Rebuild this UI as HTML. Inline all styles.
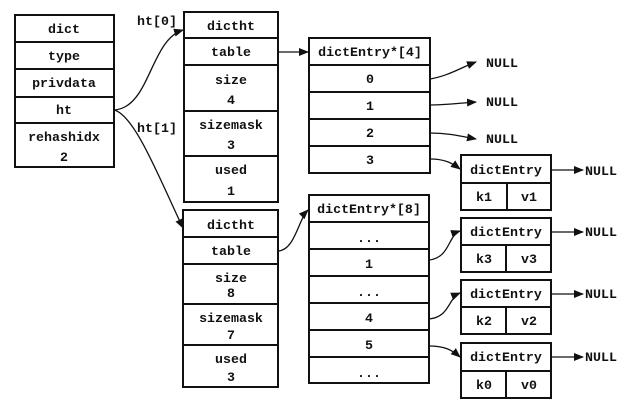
<!DOCTYPE html>
<html><head><meta charset="utf-8"><style>
html,body{margin:0;padding:0;background:#fff;}
svg{display:block;}
text{font-family:"Liberation Mono",monospace;font-size:13.3px;font-weight:bold;fill:#111;text-anchor:middle;}
.b{fill:none;stroke:#111;stroke-width:2;}
.l{fill:none;stroke:#111;stroke-width:1.3;}
</style></head><body>
<svg width="634" height="409" viewBox="0 0 634 409" xmlns="http://www.w3.org/2000/svg">
<defs><marker id="a" markerWidth="10" markerHeight="8" refX="9" refY="4" orient="auto" markerUnits="userSpaceOnUse"><path d="M0,0 L10,4 L0,8 Z" fill="#111"/></marker></defs>

<rect class="b" x="15" y="15" width="99" height="152"/>
<path class="b" d="M15 42H114M15 69H114M15 97H114M15 123H114"/>
<text x="64" y="33">dict</text>
<text x="64" y="60">type</text>
<text x="64" y="87">privdata</text>
<text x="64" y="114">ht</text>
<text x="64" y="141">rehashidx</text>
<text x="64" y="161">2</text>

<text x="157" y="25">ht[0]</text>
<text x="157" y="132">ht[1]</text>
<path class="l" d="M114 110 C150 108,150 40,183 30" marker-end="url(#a)"/>
<path class="l" d="M114 110 C135 115,160 180,183 228" marker-end="url(#a)"/>

<rect class="b" x="184" y="12" width="94" height="190"/>
<path class="b" d="M184 38H278M184 65H278M184 111H278M184 156H278"/>
<text x="231" y="30">dictht</text>
<text x="231" y="56">table</text>
<text x="231" y="84">size</text>
<text x="231" y="104">4</text>
<text x="231" y="129">sizemask</text>
<text x="231" y="149">3</text>
<text x="231" y="174">used</text>
<text x="231" y="195">1</text>
<path class="l" d="M278 52H308" marker-end="url(#a)"/>

<rect class="b" x="309" y="38" width="121" height="135"/>
<path class="b" d="M309 65H430M309 92H430M309 119H430M309 146H430"/>
<text x="370" y="56">dictEntry*[4]</text>
<text x="370" y="83">0</text>
<text x="370" y="110">1</text>
<text x="370" y="137">2</text>
<text x="370" y="164">3</text>
<path class="l" d="M430 79 C448 76,460 68,476 62" marker-end="url(#a)"/>
<path class="l" d="M430 105 C448 105,460 103,476 102" marker-end="url(#a)"/>
<path class="l" d="M430 133 C448 133,460 136,476 139" marker-end="url(#a)"/>
<text x="502" y="67">NULL</text>
<text x="502" y="106">NULL</text>
<text x="502" y="143">NULL</text>
<path class="l" d="M430 159 C445 159,452 163,460 169" marker-end="url(#a)"/>

<rect class="b" x="183" y="210" width="95" height="177"/>
<path class="b" d="M183 237H278M183 264H278M183 304H278M183 345H278"/>
<text x="231" y="229">dictht</text>
<text x="231" y="255">table</text>
<text x="231" y="282">size</text>
<text x="231" y="297">8</text>
<text x="231" y="322">sizemask</text>
<text x="231" y="339">7</text>
<text x="231" y="363">used</text>
<text x="231" y="381">3</text>
<path class="l" d="M278 251 C295 250,298 220,308 210" marker-end="url(#a)"/>

<rect class="b" x="309" y="195" width="120" height="188"/>
<path class="b" d="M309 222H429M309 249H429M309 276H429M309 303H429M309 330H429M309 357H429"/>
<text x="369" y="213">dictEntry*[8]</text>
<text x="369" y="242">...</text>
<text x="369" y="268">1</text>
<text x="369" y="296">...</text>
<text x="369" y="322">4</text>
<text x="369" y="349">5</text>
<text x="369" y="377">...</text>
<path class="l" d="M429 260 C450 258,448 235,460 231" marker-end="url(#a)"/>
<path class="l" d="M429 319 C450 317,448 298,460 293" marker-end="url(#a)"/>
<path class="l" d="M429 346 C445 346,452 350,460 357" marker-end="url(#a)"/>

<g>
<rect class="b" x="461" y="155" width="90" height="55"/><path class="b" d="M461 183H551M507 183V210"/>
<text x="506" y="174">dictEntry</text><text x="484" y="201">k1</text><text x="529" y="201">v1</text>
<path class="l" d="M551 170H583" marker-end="url(#a)"/><text x="601" y="175">NULL</text>
</g>
<g>
<rect class="b" x="461" y="218" width="90" height="54"/><path class="b" d="M461 245H551M506 245V272"/>
<text x="506" y="236">dictEntry</text><text x="484" y="263">k3</text><text x="529" y="263">v3</text>
<path class="l" d="M551 232H583" marker-end="url(#a)"/><text x="601" y="236">NULL</text>
</g>
<g>
<rect class="b" x="461" y="280" width="90" height="54"/><path class="b" d="M461 307H551M506 307V334"/>
<text x="506" y="298">dictEntry</text><text x="484" y="325">k2</text><text x="529" y="325">v2</text>
<path class="l" d="M551 294H583" marker-end="url(#a)"/><text x="601" y="298">NULL</text>
</g>
<g>
<rect class="b" x="461" y="343" width="90" height="55"/><path class="b" d="M461 371H551M506 371V398"/>
<text x="506" y="361">dictEntry</text><text x="484" y="389">k0</text><text x="529" y="389">v0</text>
<path class="l" d="M551 357H583" marker-end="url(#a)"/><text x="601" y="361">NULL</text>
</g>
</svg>
</body></html>
